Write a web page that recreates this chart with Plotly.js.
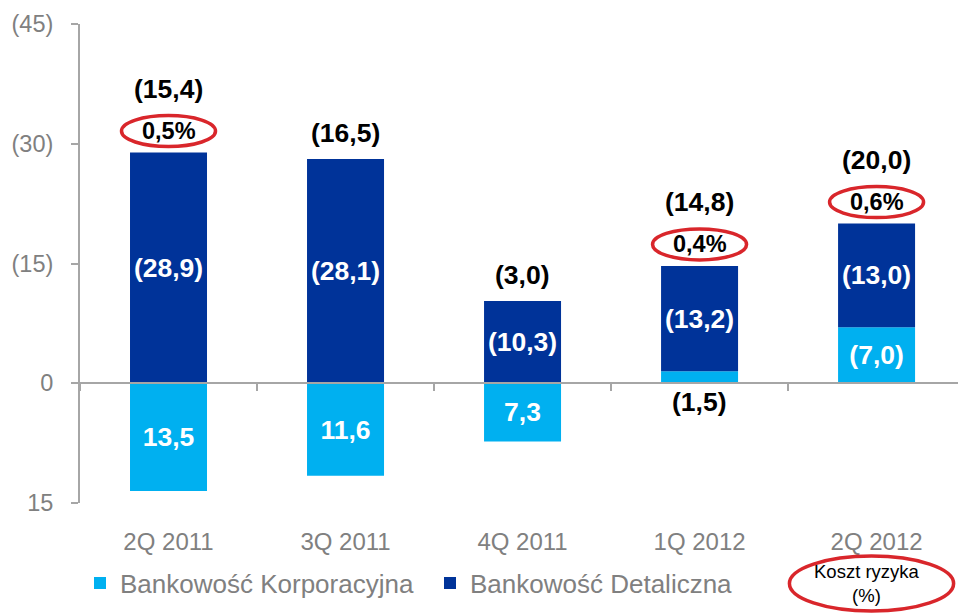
<!DOCTYPE html>
<html>
<head>
<meta charset="utf-8">
<script src="https://cdn.plot.ly/plotly-3.0.1.min.js"></script>
<style>html,body{margin:0;padding:0;background:#fff;}#chart{width:958px;height:613px;}</style>
</head>
<body>
<div id="chart"></div>
<script>
// Data (chart convention: positive = cost shown in parentheses, drawn upward)
const categories = ['2Q 2011', '3Q 2011', '4Q 2011', '1Q 2012', '2Q 2012'];
const korporacyjna = [-13.5, -11.6, -7.3, 1.5, 7.0];
const detaliczna = [28.9, 28.1, 10.3, 13.2, 13.0];
const totals = [15.4, 16.5, 3.0, 14.8, 20.0];
const kosztRyzyka = [0.5, null, null, 0.4, 0.6];
const yTickVals = [45, 30, 15, 0, -15];
const yTickText = ['(45)', '(30)', '(15)', '0', '15'];

const FONT = 'Liberation Sans, Arial, sans-serif';
const LIGHT = '#00B0F0', DARK = '#003399', RED = '#D9262B', GRAY = '#A6A6A6', TXT = '#808080';

function fmt(v) {
  const s = Math.abs(v).toFixed(1).replace('.', ',');
  return v > 0 ? '(' + s + ')' : s;
}

const korpText = korporacyjna.map(fmt);
const korpPos = korporacyjna.map(v => (Math.abs(v) < 3 ? 'none' : 'inside'));
const detText = detaliczna.map(fmt);

const traces = [
  {
    type: 'bar', name: 'Bankowość Korporacyjna', x: categories, y: korporacyjna,
    marker: {color: LIGHT}, text: korpText, textposition: korpPos,
    insidetextanchor: 'middle', textangle: 0, constraintext: 'none',
    textfont: {family: FONT, size: 26.5, color: '#FFFFFF', weight: 'bold'},
    hoverinfo: 'skip'
  },
  {
    type: 'bar', name: 'Bankowość Detaliczna', x: categories, y: detaliczna,
    marker: {color: DARK}, text: detText, textposition: 'inside',
    insidetextanchor: 'middle', textangle: 0, constraintext: 'none',
    textfont: {family: FONT, size: 26.5, color: '#FFFFFF', weight: 'bold'},
    hoverinfo: 'skip'
  }
];

const annotations = [];
const shapes = [];
categories.forEach((c, i) => {
  const top = Math.max(0, korporacyjna[i]) + Math.max(0, detaliczna[i]);
  const hasPct = kosztRyzyka[i] !== null;
  annotations.push({
    x: c, y: top, xref: 'x', yref: 'y', text: '<b>' + fmt(totals[i]) + '</b>',
    showarrow: false, yanchor: 'middle', yshift: hasPct ? 64 : 26,
    font: {family: FONT, size: 26.5, color: '#000000'}
  });
  if (hasPct) {
    annotations.push({
      x: c, y: top, xref: 'x', yref: 'y',
      text: '<b>' + kosztRyzyka[i].toFixed(1).replace('.', ',') + '%</b>',
      showarrow: false, yanchor: 'middle', yshift: 22,
      font: {family: FONT, size: 23.5, color: '#000000'}
    });
    shapes.push({
      type: 'circle', xref: 'x', yref: 'y', xsizemode: 'pixel', ysizemode: 'pixel',
      xanchor: c, yanchor: top, x0: -47, x1: 47, y0: 6, y1: 37,
      line: {color: RED, width: 3.5}
    });
  }
  if (korpPos[i] === 'none') {
    annotations.push({
      x: c, y: 0, xref: 'x', yref: 'y', text: '<b>' + korpText[i] + '</b>',
      showarrow: false, yanchor: 'middle', yshift: -19,
      font: {family: FONT, size: 26.5, color: '#000000'}
    });
  }
});

// Legend item "Koszt ryzyka (%)"
annotations.push({
  xref: 'paper', yref: 'paper', x: 0.896, y: -0.169, xanchor: 'center', yanchor: 'middle',
  text: 'Koszt ryzyka<br>(%)', showarrow: false,
  font: {family: FONT, size: 18.5, color: '#000000'}
});
shapes.push({
  type: 'circle', xref: 'paper', yref: 'paper', x0: 0.808, x1: 0.995, y0: -0.2255, y1: -0.1106,
  line: {color: RED, width: 3.5}
});

const layout = {
  width: 958, height: 613,
  margin: {l: 80, r: 0, t: 24, b: 110},
  paper_bgcolor: '#FFFFFF', plot_bgcolor: '#FFFFFF',
  barmode: 'relative', bargap: 0.565,
  showlegend: true,
  legend: {
    orientation: 'h', x: 0.0, xanchor: 'left', y: -0.167, yanchor: 'middle',
    entrywidth: 305, entrywidthmode: 'pixels',
    font: {family: FONT, size: 26, color: TXT}, itemclick: false, itemdoubleclick: false
  },
  xaxis: {
    type: 'category', range: [-0.5, 4.46], anchor: 'free', position: 0.25,
    showline: true, linecolor: GRAY, linewidth: 2,
    ticks: 'outside', tickson: 'boundaries', ticklen: 7, tickcolor: GRAY, tickwidth: 2,
    ticklabelstandoff: 137,
    tickfont: {family: FONT, size: 24, color: TXT},
    showgrid: false, zeroline: false, fixedrange: true
  },
  yaxis: {
    range: [-15, 45], tickvals: yTickVals, ticktext: yTickText,
    showline: true, linecolor: GRAY, linewidth: 2,
    ticks: 'outside', ticklen: 7, tickcolor: GRAY, tickwidth: 2,
    ticklabelstandoff: 13,
    tickfont: {family: FONT, size: 23.5, color: TXT},
    showgrid: false, zeroline: false, fixedrange: true
  },
  annotations: annotations,
  shapes: shapes
};

Plotly.newPlot('chart', traces, layout, {displayModeBar: false, staticPlot: true});
</script>
</body>
</html>
